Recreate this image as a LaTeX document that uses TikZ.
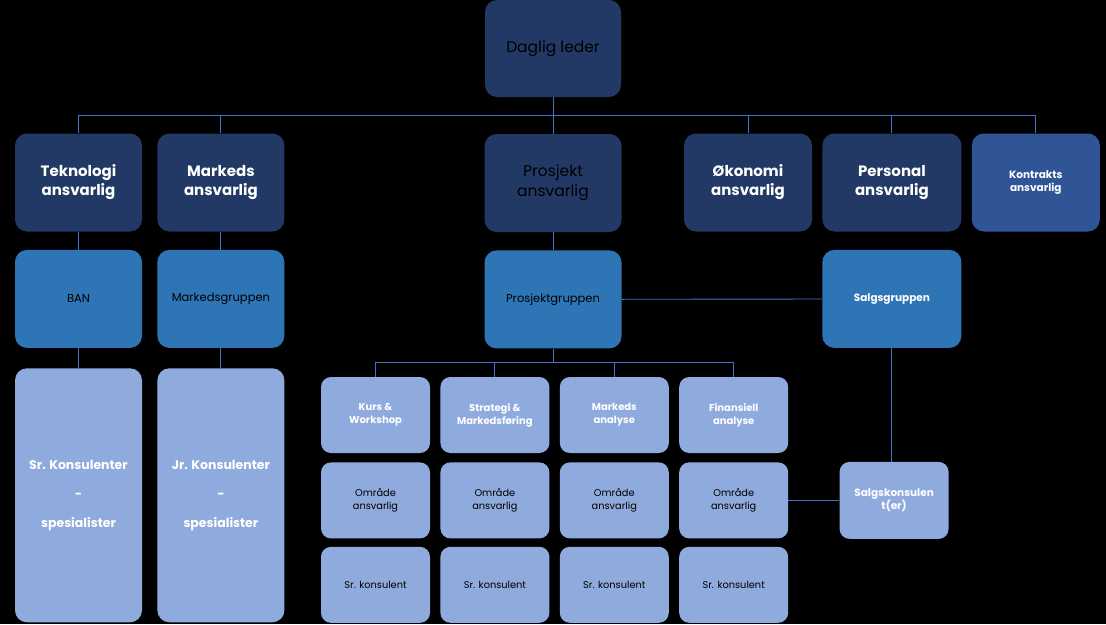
\documentclass[tikz,border=0pt]{standalone}
\usepackage{fontspec}
\setmainfont{Poppins}
\usetikzlibrary{positioning}
\definecolor{navy}{RGB}{33,57,100}
\definecolor{royal}{RGB}{47,85,151}
\definecolor{midblue}{RGB}{46,117,182}
\definecolor{lightblue}{RGB}{143,170,220}
\definecolor{wire}{RGB}{68,114,196}
\tikzset{
    box/.style = {
        rectangle,
        rounded corners=12pt,
        minimum width=127pt,
        minimum height=98pt,
        align=center,
        inner sep=2pt
    },
    headbox/.style  = {box, fill=navy, text=white, font=\fontsize{15}{19}\selectfont\bfseries},
    darkbox/.style  = {box, fill=navy, text=black, font=\fontsize{15.5}{20}\selectfont},
    groupbox/.style = {box, fill=midblue, text=black, font=\fontsize{11.5}{14}\selectfont},
    tallbox/.style  = {box, fill=lightblue, text=white, minimum height=254pt,
                       font=\fontsize{12.5}{29}\selectfont\bfseries},
    cellbox/.style  = {box, fill=lightblue, rounded corners=10pt, minimum width=109pt,
                       minimum height=76pt, text=black, font=\fontsize{9.8}{13}\selectfont},
    titlebox/.style = {cellbox, text=white, font=\fontsize{10}{13}\selectfont\bfseries},
    line/.style = {draw=wire, line width=0.9pt}
}

\begin{document}
\begin{tikzpicture}[x=1pt, y=-1pt, node distance=18pt and 10pt]

\fill[black] (0,0) rectangle (1106,624);
\useasboundingbox (0,0) rectangle (1106,624);

% Toppen
\node[darkbox, minimum width=136pt, minimum height=97pt] (leder) at (553,48.5) {Daglig leder};

% Ansvarlige
\node[headbox] (tek) at (78.5,182.5) {Teknologi\\ansvarlig};
\node[headbox, right=15pt of tek] (mark) {Markeds\\ansvarlig};
\node[darkbox, minimum width=137pt] (prosj) at (553,183) {Prosjekt\\ansvarlig};
\node[headbox, minimum width=128pt] (okon) at (748,182.5) {Økonomi\\ansvarlig};
\node[headbox, minimum width=139pt, right=of okon] (pers) {Personal\\ansvarlig};
\node[headbox, fill=royal, minimum width=128pt, right=of pers,
      font=\fontsize{10.5}{13}\selectfont\bfseries] (kontr) {Kontrakts\\ansvarlig};

\coordinate (bus) at (78.5,115);
\draw[line] (tek.north |- bus) -- (kontr.north |- bus);
\draw[line] (leder.south) -- (leder.south |- bus);
\foreach \n in {tek,mark,prosj,okon,pers,kontr}
    \draw[line] (\n.north |- bus) -- (\n.north);

% Grupper
\node[groupbox, below=of tek] (ban) {BAN};
\node[groupbox, below=of mark] (mgrp) {Markedsgruppen};
\node[groupbox, minimum width=137pt, below=of prosj] (pgrp) {Prosjektgruppen};
\node[groupbox, minimum width=139pt, text=white, below=of pers,
      font=\fontsize{10.5}{13}\selectfont\bfseries] (sgrp) {Salgsgruppen};

\draw[line] (tek) -- (ban);
\draw[line] (mark) -- (mgrp);
\draw[line] (prosj) -- (pgrp);
\draw[line] (pgrp) -- (sgrp);

% Konsulenter
\node[tallbox, below=20pt of ban] (srk) {Sr. Konsulenter\\-\\spesialister};
\node[tallbox, below=20pt of mgrp] (jrk) {Jr. Konsulenter\\-\\spesialister};

\draw[line] (ban) -- (srk);
\draw[line] (mgrp) -- (jrk);

% Fagområder
\node[titlebox] (kurs) at (375.5,415) {Kurs \&\\Workshop};
\node[titlebox, right=of kurs] (strat) {Strategi \&\\Markedsføring};
\node[titlebox, right=of strat] (manal) {Markeds\\analyse};
\node[titlebox, right=of manal] (fin) {Finansiell\\analyse};

\node[cellbox, below=9pt of kurs] (omr1) {Område\\ansvarlig};
\node[cellbox, below=9pt of strat] (omr2) {Område\\ansvarlig};
\node[cellbox, below=9pt of manal] (omr3) {Område\\ansvarlig};
\node[cellbox, below=9pt of fin] (omr4) {Område\\ansvarlig};

\node[cellbox, below=8pt of omr1] (sk1) {Sr. konsulent};
\node[cellbox, below=8pt of omr2] (sk2) {Sr. konsulent};
\node[cellbox, below=8pt of omr3] (sk3) {Sr. konsulent};
\node[cellbox, below=8pt of omr4] (sk4) {Sr. konsulent};

\coordinate (gbus) at (375.5,362);
\draw[line] (pgrp.south) -- (pgrp.south |- gbus);
\draw[line] (kurs.north) -- (kurs.north |- gbus) -- (fin.north |- gbus) -- (fin.north);
\draw[line] (strat.north |- gbus) -- (strat.north);
\draw[line] (manal.north |- gbus) -- (manal.north);

% Salg
\node[titlebox, minimum height=77pt, right=51pt of omr4,
      font=\fontsize{10.5}{13}\selectfont\bfseries] (salgk) {Salgskonsulen\\t(er)};

\draw[line] (sgrp.south) -- (sgrp.south |- salgk.north);
\draw[line] (salgk) -- (omr4);

\end{tikzpicture}
\end{document}
